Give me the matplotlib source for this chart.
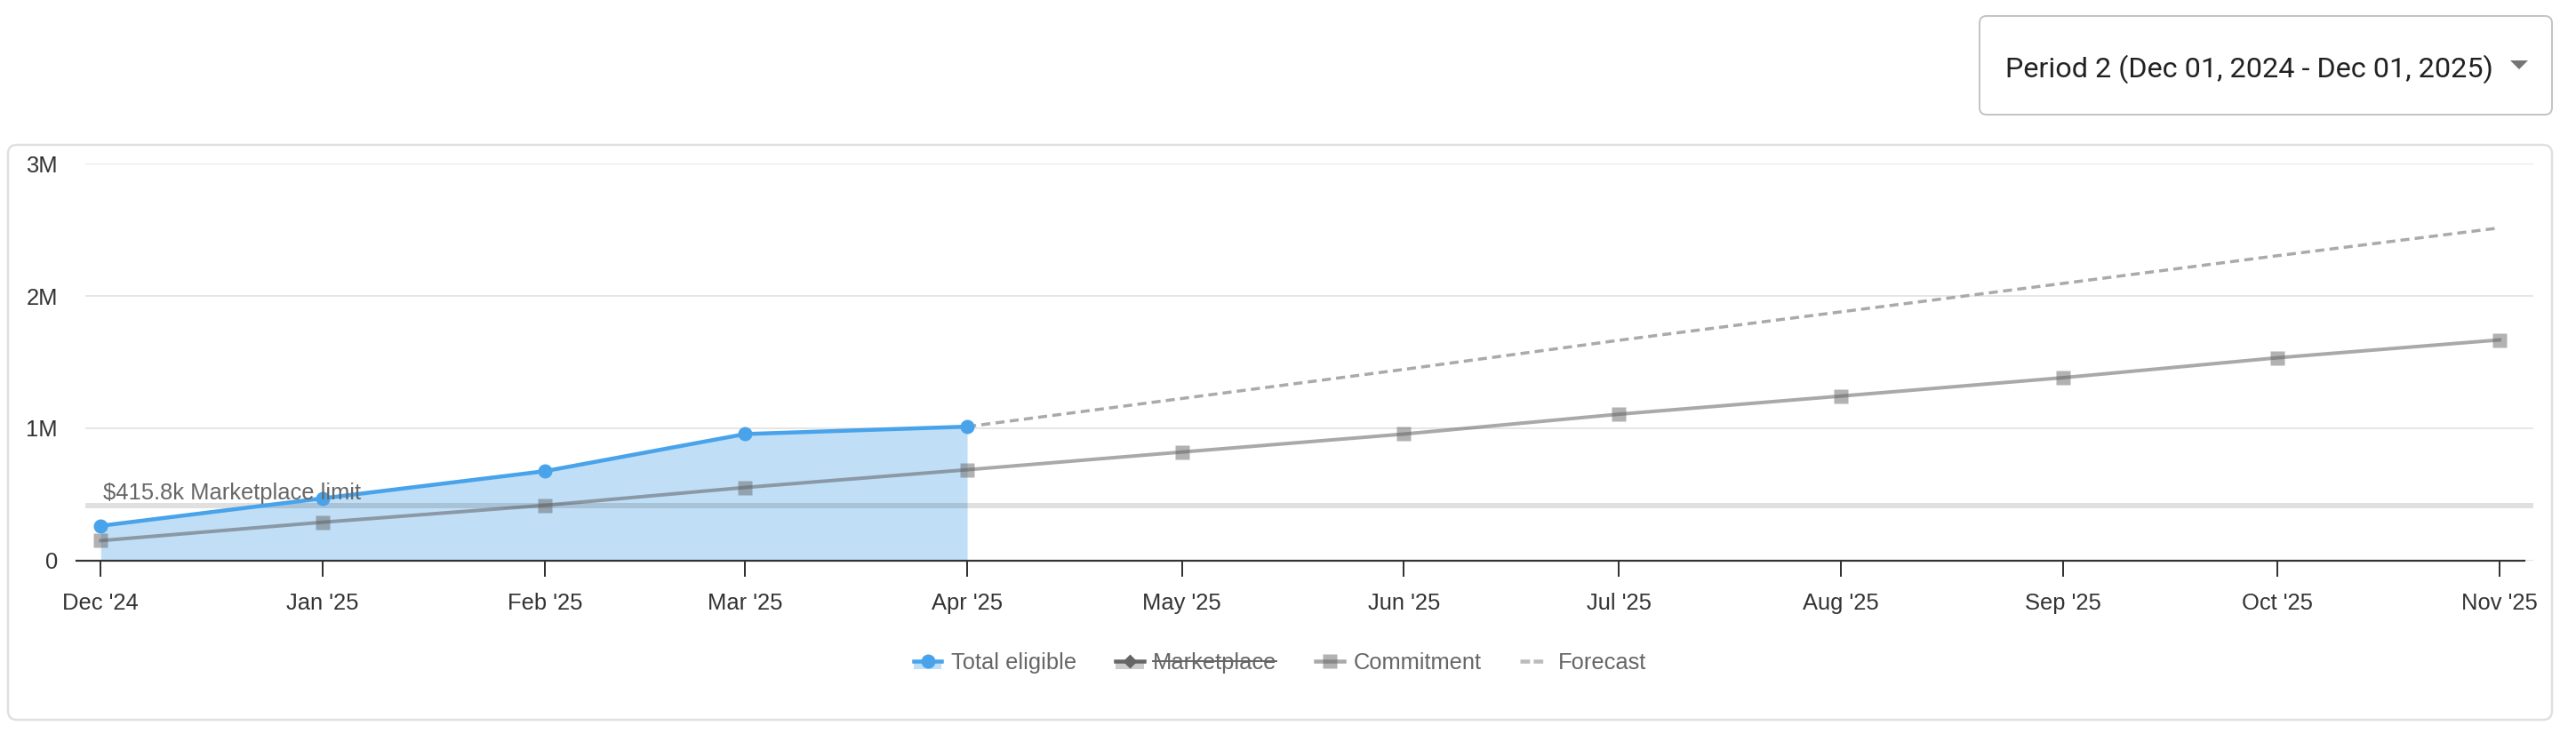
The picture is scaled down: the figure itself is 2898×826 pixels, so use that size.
"""
Eligible spend vs commitment chart with a period selector above it.
"""

import matplotlib
matplotlib.use("Agg")
import matplotlib.pyplot as plt
import matplotlib.dates as mdates
import pandas as pd
from matplotlib.lines import Line2D
from matplotlib.patches import FancyBboxPatch, Polygon, Rectangle
from matplotlib.transforms import IdentityTransform, blended_transform_factory

plt.rcParams["font.family"] = ["Liberation Sans", "DejaVu Sans"]

# ---- data (values in $M) ----
month_starts = ["2024-12-01", "2025-01-01", "2025-02-01", "2025-03-01", "2025-04-01", "2025-05-01",
                "2025-06-01", "2025-07-01", "2025-08-01", "2025-09-01", "2025-10-01", "2025-11-01"]
month_labels = ["Dec '24", "Jan '25", "Feb '25", "Mar '25", "Apr '25", "May '25",
                "Jun '25", "Jul '25", "Aug '25", "Sep '25", "Oct '25", "Nov '25"]
total_eligible = [0.262, 0.470, 0.675, 0.956, 1.012]
commitment = [0.150, 0.289, 0.417, 0.552, 0.686, 0.820, 0.956, 1.106, 1.243, 1.382, 1.533, 1.668]
forecast = [1.012, 1.225, 1.445, 1.665, 1.880, 2.095, 2.305, 2.515]
marketplace_limit = 0.4158
limit_label = "$415.8k Marketplace limit"
y_ticks = [0, 1, 2, 3]
y_tick_labels = ["0", "1M", "2M", "3M"]
period_label = "Period 2 (Dec 01, 2024 - Dec 01, 2025)"
legend_labels = ["Total eligible", "Marketplace", "Commitment", "Forecast"]

BLUE = "#48a3ea"
BLUE_FILL = "#c0dff7"
TEXT = "#333333"
MUTED = "#666666"

W, H = 2898, 826
PX = 0.72  # points per pixel at dpi 100
FS = 25.5 * PX

dates = pd.to_datetime(month_starts)
x = mdates.date2num(dates)

fig = plt.figure(figsize=(W / 100, H / 100), dpi=100, facecolor="white")
pix = IdentityTransform()


def py(y):
    # screen y (from top) -> display y (from bottom)
    return H - y


# outer chart panel (behind the axes)
fig.add_artist(FancyBboxPatch((9, py(810)), 2862, 810 - 163,
                              boxstyle="round,pad=0,rounding_size=10",
                              fc="white", ec="#e0e0e0", lw=2.5 * PX, transform=pix,
                              zorder=-5))

# period dropdown
fig.add_artist(FancyBboxPatch((2227, py(129)), 644, 111,
                              boxstyle="round,pad=0,rounding_size=8",
                              fc="white", ec="#c4c4c4", lw=2 * PX, transform=pix))
fig.text(2256, py(74), period_label, transform=pix, family="Roboto",
         fontsize=32.4 * PX, color="#212121", va="center_baseline", ha="left")
fig.add_artist(Polygon([(2824, py(68)), (2844, py(68)), (2834, py(78))], closed=True,
                       fc="#757575", ec="none", transform=pix))

# plot area
ax = fig.add_axes([96 / W, (H - 630.7) / H, (2850 - 96) / W, (630.7 - 184.3) / H])
ax.set_facecolor("none")
for s in ax.spines.values():
    s.set_visible(False)

ax.set_ylim(0, 3)
ax.set_xlim(x[0] - 17.3 / 8.056, x[-1] + 38 / 8.056)

ax.set_yticks(y_ticks)
ax.set_yticklabels(y_tick_labels)
ax.set_xticks(x)
ax.set_xticklabels(month_labels)
ax.tick_params(axis="y", length=0, pad=31 * PX, labelsize=FS, labelcolor=TEXT)
ax.tick_params(axis="x", length=18 * PX, width=2 * PX, color=TEXT, pad=18 * PX,
               labelsize=FS, labelcolor=TEXT)
ax.yaxis.grid(True, color="#e6e6e6", lw=2 * PX, zorder=0)
ax.set_axisbelow(True)

# eligible area
ax.fill_between(x[:len(total_eligible)], total_eligible, color=BLUE_FILL, lw=0, zorder=1)

# marketplace limit band
ax.axhline(marketplace_limit, color="black", alpha=0.12, lw=6 * PX, zorder=2)
ax.annotate(limit_label, xy=(20 / 2754, marketplace_limit),
            xycoords=blended_transform_factory(ax.transAxes, ax.transData),
            xytext=(0, 7 * PX), textcoords="offset points",
            fontsize=FS, color=MUTED, va="baseline", ha="left", zorder=6)

# forecast
ax.plot(x[len(total_eligible) - 1:], forecast, color="#aaaaaa", lw=3.5 * PX,
        linestyle=(0, (2.9, 1.7)), zorder=3)

# commitment
ax.plot(x, commitment, color="#555555", alpha=0.5, lw=4 * PX, zorder=3)
ax.plot(x, commitment, ls="none", marker="s", ms=16 * PX, mfc="#666666", mec="none",
        alpha=0.5, zorder=3)

# total eligible
ax.plot(x[:len(total_eligible)], total_eligible, color=BLUE, lw=4.5 * PX, marker="o",
        ms=16 * PX, mec="none", zorder=5)

# x baseline
ax.add_line(Line2D([-10 / 2754, (2840 - 96) / 2754], [0, 0], transform=ax.transAxes,
                   color=TEXT, lw=2.2 * PX, clip_on=False, zorder=6))

# legend, drawn by hand
ly = 744
# total eligible
fig.add_artist(Rectangle((1028, py(753)), 31, 9, fc=BLUE_FILL, ec="none", transform=pix))
fig.add_artist(Line2D([1028, 1059], [py(ly), py(ly)], color=BLUE, lw=4.5 * PX,
                      transform=pix))
fig.add_artist(Line2D([1043.5], [py(ly)], color=BLUE, ls="none", marker="o",
                      ms=16 * PX, mec="none", transform=pix))
fig.text(1070, py(753), legend_labels[0], transform=pix, fontsize=FS, color=MUTED,
         va="baseline")
# marketplace (hidden series)
fig.add_artist(Rectangle((1255, py(753)), 32, 9, fc="#cccccc", ec="none", transform=pix))
fig.add_artist(Line2D([1255, 1287], [py(ly), py(ly)], color="#666666", lw=4.5 * PX,
                      transform=pix))
fig.add_artist(Line2D([1271], [py(ly)], color="#666666", ls="none", marker="D",
                      ms=12 * PX, mec="none", transform=pix))
mt = fig.text(1297, py(753), legend_labels[1], transform=pix, fontsize=FS, color=MUTED,
              va="baseline")
# commitment
fig.add_artist(Line2D([1480, 1512], [py(ly), py(ly)], color="#555555", alpha=0.5,
                      lw=4.5 * PX, transform=pix))
fig.add_artist(Line2D([1496], [py(ly)], ls="none", marker="s", ms=16 * PX,
                      mfc="#666666", mec="none", alpha=0.5, transform=pix))
fig.text(1523, py(753), legend_labels[2], transform=pix, fontsize=FS, color=MUTED,
         va="baseline")
# forecast
fig.add_artist(Line2D([1710, 1737], [py(ly), py(ly)], color="#bbbbbb", lw=4.5 * PX,
                      linestyle=(0, (2.4, 0.9)), transform=pix))
fig.text(1753, py(753), legend_labels[3], transform=pix, fontsize=FS, color=MUTED,
         va="baseline")

# strike through the hidden series label
renderer = fig.canvas.get_renderer()
bb = mt.get_window_extent(renderer)
fig.add_artist(Line2D([bb.x0, bb.x1], [py(ly), py(ly)], color=MUTED, lw=2 * PX,
                      transform=pix))

fig.savefig("out.png", dpi=100, facecolor="white")
plt.close(fig)
